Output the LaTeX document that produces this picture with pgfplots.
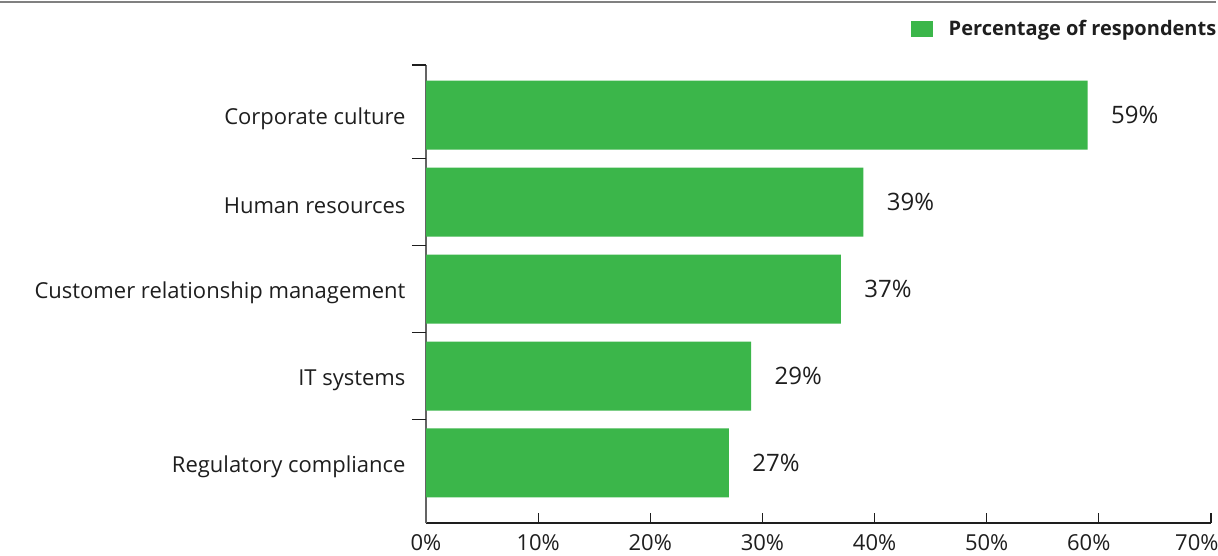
\documentclass[border=0pt]{standalone}
\usepackage{pgfplots}
\pgfplotsset{compat=1.18}
\usepackage{fontspec}
\setmainfont{Open Sans}
\definecolor{bargreen}{RGB}{59,182,74}
\definecolor{txt}{RGB}{30,30,30}
\definecolor{axisgray}{RGB}{100,100,100}

\begin{document}
\begin{tikzpicture}
\begin{axis}[
    at={(426pt,32pt)}, anchor=south west,
    scale only axis, width=785pt, height=458pt,
    xbar, bar width=69pt,
    xmin=0, xmax=70, ymin=-0.69, ymax=4.576,
    axis x line*=bottom, axis y line*=left,
    x axis line style={draw=txt, line width=1.2pt},
    y axis line style={draw=axisgray, line width=1.6pt},
    xtick={0,10,...,70},
    xticklabels={0\%,10\%,20\%,30\%,40\%,50\%,\makebox[23pt][r]{60\%},\makebox[15pt][r]{70\%}},
    tick align=inside, major tick length=10pt,
    x tick style={draw=txt, line width=1.2pt},
    x tick label style={yshift=-8pt},
    ytick={0,1,2,3,4},
    yticklabels={Regulatory compliance, IT systems, Customer relationship management, Human resources, Corporate culture},
    y tick style={draw=none},
    y tick label style={xshift=-17pt, yshift=-4pt},
    extra y ticks={0.5,1.5,2.5,3.5,4.576},
    extra y tick labels={},
    extra y tick style={tick align=outside, major tick length=14pt,
        y tick style={draw=txt, line width=1.2pt}},
    ticklabel style={font=\fontsize{22}{26}\selectfont, text=txt},
    nodes near coords={\pgfmathprintnumber[assume math mode=true]{\pgfplotspointmeta}\%},
    point meta=x,
    nodes near coords style={anchor=west, xshift=20pt, font=\fontsize{24}{28}\selectfont, text=txt},
    legend style={draw=none, at={(rel axis cs:1.0095,1.079)}, anchor=east, inner sep=0pt,
        column sep=14pt, font=\fontsize{20}{24}\selectfont\bfseries, text=txt},
    legend image code/.code={\fill[bargreen] (0pt,-8pt) rectangle (22pt,8pt);},
    clip=false,
]
\addplot[fill=bargreen, draw=none] coordinates {
    (27,0) (29,1) (37,2) (39,3) (59,4)
};
\addlegendentry{Percentage of respondents}
\end{axis}
\draw[gray, line width=1.6pt] (0pt,553pt) -- (1216pt,553pt);
\pgfresetboundingbox
\path[use as bounding box] (0pt,0pt) rectangle (1218pt,555pt);
\end{tikzpicture}
\end{document}
